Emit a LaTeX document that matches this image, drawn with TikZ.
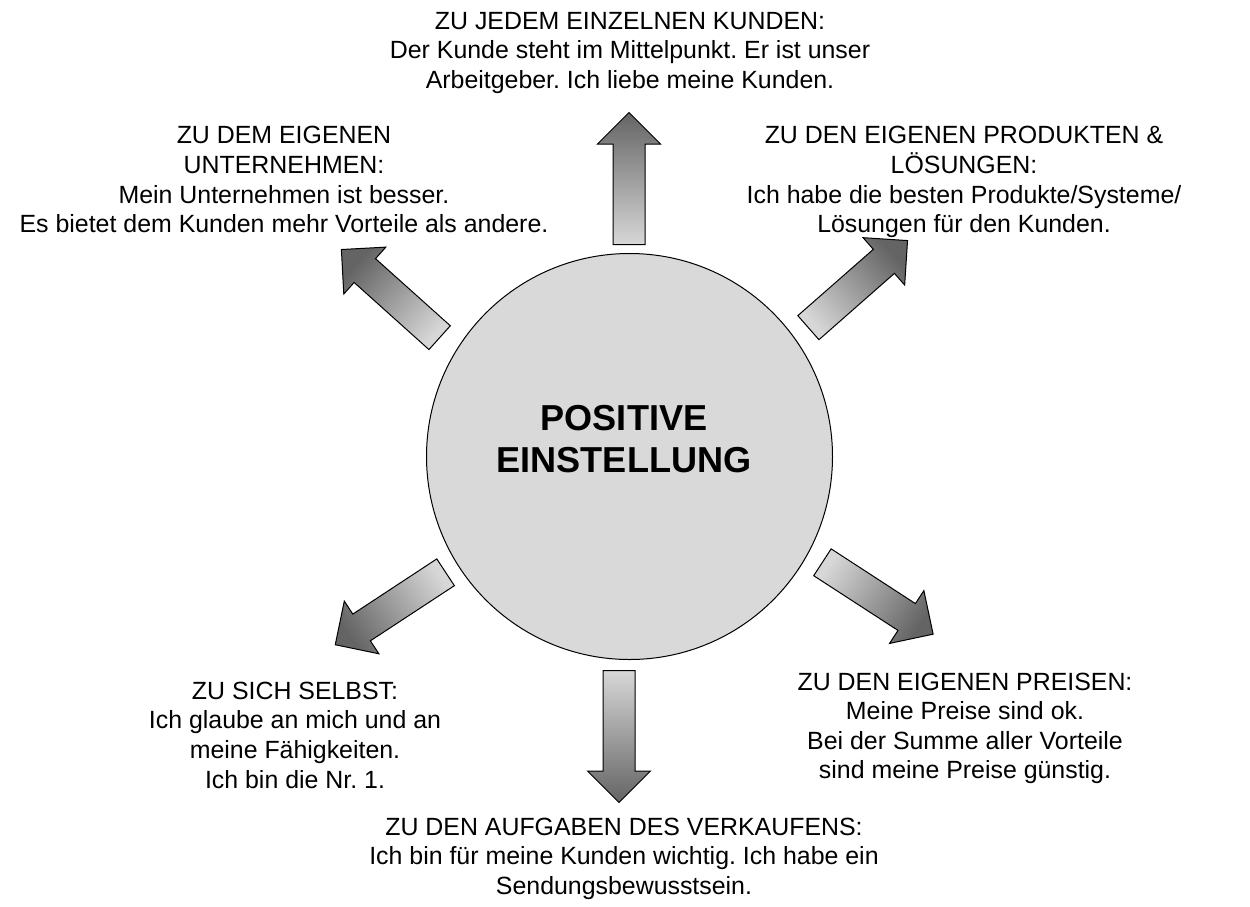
\documentclass[tikz,border=0pt]{standalone}
\usepackage{fontspec}
\setmainfont{Liberation Sans}
\usetikzlibrary{shapes.arrows}
\frenchspacing
\definecolor{circfill}{RGB}{217,217,217}
\definecolor{arrowdark}{RGB}{100,100,100}
\definecolor{arrowlight}{RGB}{215,215,215}
\tikzset{
  arrowbox/.style={single arrow, draw=black, line width=1pt,
    minimum height=132pt, minimum width=0pt, inner xsep=0pt, inner ysep=15.5pt,
    single arrow head extend=15.5pt, single arrow head indent=0pt,
    single arrow tip angle=90, anchor=tail,
    top color=arrowdark, bottom color=arrowlight},
  bodytext/.style={align=center, inner sep=0pt, anchor=base,
    font=\fontsize{24.9}{29.6}\selectfont\frenchspacing},
  titletext/.style={align=center, inner sep=0pt, anchor=base,
    font=\fontsize{36.1}{42.5}\selectfont\bfseries},
}
\begin{document}
\begin{tikzpicture}[x=1pt,y=-1pt]
\useasboundingbox (0,0) rectangle (1250,906);
\node[circle, draw=black, line width=1pt, fill=circfill, minimum size=406pt, inner sep=0pt] (c) at (629.5,456.5) {};
\node[titletext] (title) at (624,472.7) {POSITIVE\\EINSTELLUNG};

\node[arrowbox, rotate=90, shading angle=0] (a1) at (629,245) {};
\node[arrowbox, rotate=138.1, shading angle=48.1] (a2) at (440,338) {};
\node[arrowbox, rotate=41.3, shading angle=-48.7] (a3) at (808,328) {};
\node[arrowbox, rotate=-33, shading angle=-123] (a4) at (822,562) {};
\node[arrowbox, rotate=213.3, shading angle=123.3] (a5) at (446,572) {};
\node[arrowbox, rotate=-90, shading angle=180] (a6) at (619,670) {};

\node[bodytext] (t1) at (630,88.5) {ZU JEDEM EINZELNEN KUNDEN:\\Der Kunde steht im Mittelpunkt. Er ist unser\\Arbeitgeber. Ich liebe meine Kunden.};
\node[bodytext] (t2) at (284,232.7) {ZU DEM EIGENEN\\UNTERNEHMEN:\\Mein Unternehmen ist besser.\\Es bietet dem Kunden mehr Vorteile als andere.};
\node[bodytext] (t3) at (964,232.7) {ZU DEN EIGENEN PRODUKTEN \&\\LÖSUNGEN:\\Ich habe die besten Produkte/Systeme/\\Lösungen für den Kunden.};
\node[bodytext] (t4) at (965,778.8) {ZU DEN EIGENEN PREISEN:\\Meine Preise sind ok.\\Bei der Summe aller Vorteile\\sind meine Preise günstig.};
\node[bodytext] (t5) at (295,788) {ZU SICH SELBST:\\Ich glaube an mich und an\\meine Fähigkeiten.\\Ich bin die Nr. 1.};
\node[bodytext] (t6) at (624,894.5) {ZU DEN AUFGABEN DES VERKAUFENS:\\Ich bin für meine Kunden wichtig. Ich habe ein\\Sendungsbewusstsein.};
\end{tikzpicture}
\end{document}
